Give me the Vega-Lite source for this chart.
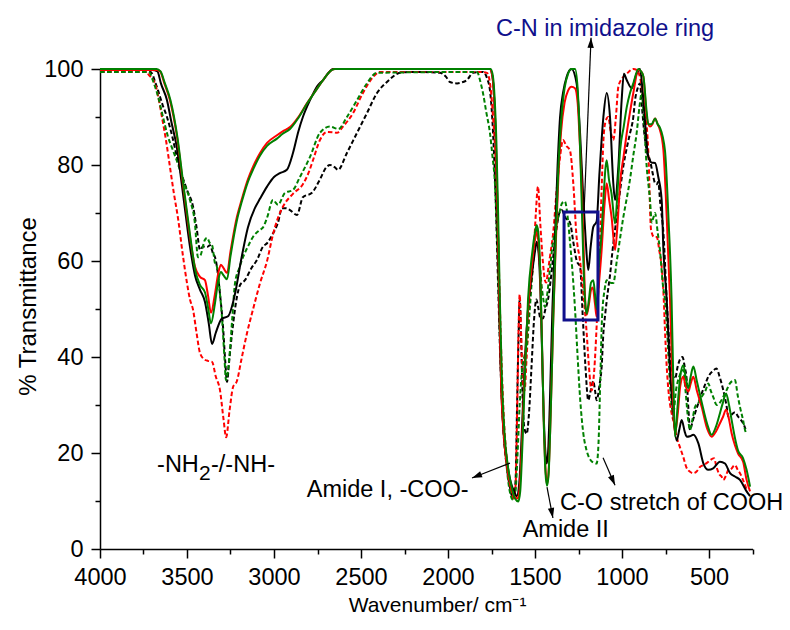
{
  "$schema": "https://vega.github.io/schema/vega-lite/v6.json",
  "width": 652.5,
  "height": 480,
  "autosize": {"type": "none"},
  "padding": {"left": 100, "top": 69, "right": 37.5, "bottom": 81},
  "config": {"view": {"stroke": null}, "font": "Liberation Sans"},
  "datasets": {
    "BS": [
      {"w":4000,"t":99.8},{"w":3700,"t":99.8},{"w":3670,"t":99.5},{"w":3650,"t":97},{"w":3615,"t":93.5},{"w":3590,"t":89},{"w":3560,"t":84},{"w":3523,"t":74},{"w":3483,"t":63},{"w":3454,"t":57},{"w":3425,"t":54},{"w":3397,"t":51.5},{"w":3375,"t":47},{"w":3356,"t":42.7},{"w":3335,"t":45},{"w":3300,"t":48},{"w":3264,"t":48.5},{"w":3225,"t":53},{"w":3190,"t":60},{"w":3150,"t":67},{"w":3110,"t":71},{"w":3080,"t":73},{"w":3040,"t":75.5},{"w":3000,"t":77.5},{"w":2966,"t":78.3},{"w":2926,"t":79},{"w":2891,"t":82.5},{"w":2860,"t":87},{"w":2834,"t":90},{"w":2793,"t":93.5},{"w":2750,"t":96.5},{"w":2718,"t":97.7},{"w":2680,"t":99.5},{"w":2661,"t":100},{"w":1760,"t":100},{"w":1745,"t":98.5},{"w":1735,"t":94},{"w":1725,"t":85},{"w":1715,"t":70},{"w":1705,"t":52},{"w":1695,"t":35},{"w":1680,"t":24},{"w":1660,"t":18},{"w":1640,"t":14},{"w":1620,"t":12},{"w":1605,"t":11},{"w":1590,"t":14},{"w":1575,"t":25},{"w":1560,"t":38},{"w":1540,"t":50},{"w":1515,"t":58},{"w":1500,"t":62},{"w":1490,"t":64},{"w":1480,"t":62},{"w":1470,"t":55},{"w":1460,"t":42},{"w":1450,"t":28},{"w":1440,"t":20},{"w":1433,"t":17.8},{"w":1425,"t":20},{"w":1415,"t":30},{"w":1400,"t":50},{"w":1385,"t":65},{"w":1370,"t":80},{"w":1356,"t":90},{"w":1339,"t":95},{"w":1318,"t":98.4},{"w":1290,"t":100},{"w":1261,"t":97},{"w":1241,"t":86.6},{"w":1222,"t":72.7},{"w":1208,"t":64},{"w":1194,"t":58.1},{"w":1180,"t":63},{"w":1165,"t":67.1},{"w":1146,"t":68.2},{"w":1130,"t":78},{"w":1107,"t":90},{"w":1088,"t":95},{"w":1069,"t":90},{"w":1050,"t":76.2},{"w":1040,"t":72.7},{"w":1021,"t":79.6},{"w":1002,"t":93.5},{"w":989,"t":99},{"w":973,"t":97.7},{"w":944,"t":96},{"w":916,"t":99},{"w":897,"t":100},{"w":877,"t":93.5},{"w":849,"t":81.7},{"w":830,"t":80.5},{"w":810,"t":80.4},{"w":792,"t":77.6},{"w":772,"t":72.7},{"w":762,"t":62.3},{"w":743,"t":51.9},{"w":725,"t":38},{"w":705,"t":28},{"w":686,"t":22.6},{"w":670,"t":25},{"w":657,"t":26.9},{"w":640,"t":24.5},{"w":628,"t":23.4},{"w":610,"t":23.5},{"w":590,"t":23.8},{"w":561,"t":22},{"w":532,"t":17.8},{"w":504,"t":16.5},{"w":476,"t":16.8},{"w":437,"t":18.2},{"w":408,"t":17.8},{"w":379,"t":15.8},{"w":351,"t":15.1},{"w":322,"t":14.4},{"w":284,"t":12},{"w":264,"t":11}
    ],
    "RS": [
      {"w":4000,"t":99.8},{"w":3680,"t":99.8},{"w":3655,"t":99.5},{"w":3630,"t":97},{"w":3598,"t":93.5},{"w":3558,"t":86},{"w":3523,"t":76},{"w":3483,"t":65},{"w":3454,"t":58.8},{"w":3425,"t":56.7},{"w":3397,"t":56},{"w":3380,"t":53},{"w":3362,"t":49.2},{"w":3340,"t":53},{"w":3320,"t":57.5},{"w":3305,"t":59.2},{"w":3290,"t":58.5},{"w":3270,"t":57.5},{"w":3250,"t":62},{"w":3213,"t":69.2},{"w":3184,"t":73},{"w":3150,"t":77},{"w":3121,"t":79.6},{"w":3080,"t":82.5},{"w":3040,"t":84.6},{"w":2983,"t":86.2},{"w":2950,"t":87},{"w":2908,"t":87.9},{"w":2860,"t":90},{"w":2810,"t":92.9},{"w":2760,"t":95.5},{"w":2718,"t":97.7},{"w":2667,"t":99.8},{"w":2650,"t":100},{"w":1760,"t":100},{"w":1745,"t":98.5},{"w":1735,"t":94},{"w":1725,"t":85},{"w":1715,"t":70},{"w":1705,"t":52},{"w":1695,"t":35},{"w":1680,"t":24},{"w":1660,"t":17},{"w":1640,"t":13},{"w":1620,"t":11},{"w":1600,"t":10.5},{"w":1590,"t":12},{"w":1575,"t":22},{"w":1560,"t":36},{"w":1540,"t":50},{"w":1515,"t":60},{"w":1500,"t":64.5},{"w":1490,"t":66},{"w":1480,"t":64},{"w":1470,"t":57},{"w":1460,"t":43},{"w":1450,"t":27},{"w":1440,"t":17},{"w":1431,"t":13.5},{"w":1422,"t":16},{"w":1410,"t":28},{"w":1395,"t":48},{"w":1380,"t":64},{"w":1365,"t":78},{"w":1350,"t":87},{"w":1330,"t":93},{"w":1310,"t":95.5},{"w":1290,"t":96.3},{"w":1270,"t":96},{"w":1255,"t":93},{"w":1243,"t":85},{"w":1232,"t":76.2},{"w":1222,"t":65},{"w":1213,"t":53},{"w":1203,"t":48.8},{"w":1190,"t":51},{"w":1178,"t":54},{"w":1168,"t":54.5},{"w":1155,"t":51},{"w":1146,"t":48.4},{"w":1135,"t":54},{"w":1117,"t":62.3},{"w":1100,"t":72},{"w":1088,"t":76.2},{"w":1075,"t":73},{"w":1060,"t":69.2},{"w":1040,"t":62.3},{"w":1025,"t":68},{"w":1011,"t":76.2},{"w":990,"t":82},{"w":973,"t":86.6},{"w":954,"t":91},{"w":935,"t":95},{"w":906,"t":99.8},{"w":890,"t":99.5},{"w":877,"t":98.4},{"w":858,"t":90},{"w":839,"t":88},{"w":825,"t":88.5},{"w":810,"t":89.7},{"w":795,"t":88.5},{"w":782,"t":87.3},{"w":762,"t":83.1},{"w":743,"t":69.2},{"w":724,"t":51.9},{"w":710,"t":35},{"w":695,"t":24.1},{"w":680,"t":28},{"w":665,"t":34},{"w":648,"t":35.9},{"w":635,"t":34},{"w":619,"t":32.8},{"w":605,"t":34.5},{"w":590,"t":35.9},{"w":570,"t":33},{"w":542,"t":29.6},{"w":510,"t":25},{"w":485,"t":23.4},{"w":460,"t":24.5},{"w":437,"t":26.2},{"w":420,"t":27.5},{"w":402,"t":29},{"w":385,"t":27},{"w":370,"t":24.1},{"w":350,"t":21.5},{"w":333,"t":19.9},{"w":304,"t":18.2},{"w":284,"t":14.4},{"w":264,"t":12}
    ],
    "GS": [
      {"w":4000,"t":100},{"w":3675,"t":100},{"w":3652,"t":99.5},{"w":3627,"t":97},{"w":3595,"t":93.5},{"w":3556,"t":86},{"w":3521,"t":76},{"w":3481,"t":65},{"w":3452,"t":58},{"w":3425,"t":55},{"w":3397,"t":53.5},{"w":3380,"t":50.5},{"w":3362,"t":47},{"w":3340,"t":51},{"w":3320,"t":56},{"w":3305,"t":57.7},{"w":3290,"t":57},{"w":3270,"t":56.2},{"w":3250,"t":61},{"w":3213,"t":68.5},{"w":3184,"t":72.5},{"w":3150,"t":76.5},{"w":3121,"t":79},{"w":3080,"t":82},{"w":3040,"t":84},{"w":2983,"t":85.5},{"w":2950,"t":86.5},{"w":2908,"t":87.5},{"w":2860,"t":89.8},{"w":2810,"t":92.8},{"w":2760,"t":95.5},{"w":2718,"t":97.7},{"w":2667,"t":99.8},{"w":2650,"t":100},{"w":1755,"t":100},{"w":1742,"t":98.5},{"w":1732,"t":94},{"w":1722,"t":85},{"w":1712,"t":70},{"w":1702,"t":52},{"w":1690,"t":35},{"w":1675,"t":24},{"w":1655,"t":17},{"w":1635,"t":13},{"w":1615,"t":10.5},{"w":1596,"t":9.9},{"w":1585,"t":12},{"w":1572,"t":22},{"w":1558,"t":36},{"w":1540,"t":52},{"w":1515,"t":62},{"w":1500,"t":66},{"w":1490,"t":67.5},{"w":1480,"t":65.5},{"w":1470,"t":58},{"w":1460,"t":43},{"w":1450,"t":27},{"w":1440,"t":16},{"w":1431,"t":13.2},{"w":1422,"t":15.5},{"w":1410,"t":28},{"w":1395,"t":48},{"w":1380,"t":66},{"w":1365,"t":80},{"w":1350,"t":89},{"w":1330,"t":96},{"w":1310,"t":99},{"w":1290,"t":100},{"w":1270,"t":100},{"w":1255,"t":96},{"w":1243,"t":86},{"w":1232,"t":72.7},{"w":1222,"t":60},{"w":1213,"t":52},{"w":1203,"t":49},{"w":1190,"t":52},{"w":1178,"t":55.5},{"w":1165,"t":56},{"w":1155,"t":53},{"w":1146,"t":50},{"w":1135,"t":58},{"w":1117,"t":66},{"w":1107,"t":72.7},{"w":1088,"t":81},{"w":1075,"t":77},{"w":1060,"t":74},{"w":1040,"t":67.8},{"w":1025,"t":75},{"w":1011,"t":83},{"w":990,"t":88},{"w":973,"t":92},{"w":954,"t":95},{"w":935,"t":97},{"w":906,"t":100},{"w":890,"t":99.5},{"w":877,"t":98.4},{"w":858,"t":91},{"w":849,"t":88.5},{"w":830,"t":88.5},{"w":810,"t":89.7},{"w":795,"t":88.5},{"w":782,"t":87.8},{"w":753,"t":83},{"w":733,"t":69},{"w":715,"t":51.9},{"w":705,"t":35},{"w":695,"t":23.4},{"w":680,"t":30},{"w":665,"t":36},{"w":648,"t":38.3},{"w":635,"t":36},{"w":619,"t":33.5},{"w":605,"t":36},{"w":590,"t":38},{"w":570,"t":35},{"w":542,"t":30.6},{"w":510,"t":26},{"w":485,"t":23.8},{"w":460,"t":25.5},{"w":437,"t":28.3},{"w":420,"t":30.5},{"w":402,"t":32.4},{"w":385,"t":30},{"w":370,"t":26.9},{"w":350,"t":23},{"w":333,"t":20.5},{"w":304,"t":18.9},{"w":284,"t":16.5},{"w":264,"t":13}
    ],
    "RD": [
      {"w":4000,"t":99.4},{"w":3730,"t":99.4},{"w":3724,"t":99},{"w":3700,"t":98},{"w":3684,"t":97},{"w":3664,"t":94},{"w":3644,"t":90},{"w":3620,"t":85},{"w":3598,"t":79.6},{"w":3575,"t":74},{"w":3552,"t":69},{"w":3523,"t":61},{"w":3500,"t":55.4},{"w":3483,"t":52},{"w":3465,"t":49.8},{"w":3445,"t":45},{"w":3425,"t":40.8},{"w":3400,"t":39.5},{"w":3380,"t":39.2},{"w":3356,"t":39},{"w":3335,"t":36},{"w":3310,"t":33},{"w":3290,"t":27},{"w":3275,"t":23.3},{"w":3255,"t":29},{"w":3235,"t":33.8},{"w":3213,"t":35},{"w":3190,"t":39},{"w":3155,"t":45},{"w":3120,"t":50},{"w":3080,"t":55.4},{"w":3040,"t":60},{"w":3006,"t":65.5},{"w":2977,"t":69},{"w":2949,"t":71.3},{"w":2891,"t":74},{"w":2834,"t":76},{"w":2800,"t":78.5},{"w":2776,"t":81},{"w":2736,"t":85.2},{"w":2696,"t":86.9},{"w":2660,"t":86.8},{"w":2638,"t":86.7},{"w":2604,"t":88},{"w":2546,"t":90.8},{"w":2489,"t":95},{"w":2431,"t":98.3},{"w":2391,"t":99.4},{"w":1816,"t":99.4},{"w":1776,"t":99.2},{"w":1755,"t":96},{"w":1741,"t":90},{"w":1725,"t":80},{"w":1710,"t":62},{"w":1695,"t":42},{"w":1680,"t":28},{"w":1660,"t":18},{"w":1640,"t":12.5},{"w":1625,"t":10.5},{"w":1612,"t":13},{"w":1602,"t":30},{"w":1595,"t":45},{"w":1588,"t":53},{"w":1580,"t":45},{"w":1570,"t":35},{"w":1560,"t":33},{"w":1548,"t":40},{"w":1530,"t":52},{"w":1510,"t":60},{"w":1495,"t":70},{"w":1483,"t":75.5},{"w":1470,"t":68},{"w":1455,"t":60},{"w":1443,"t":56},{"w":1436,"t":55.5},{"w":1425,"t":58},{"w":1414,"t":60.9},{"w":1395,"t":66},{"w":1375,"t":75},{"w":1355,"t":82},{"w":1339,"t":85.2},{"w":1320,"t":84},{"w":1299,"t":83},{"w":1280,"t":76.2},{"w":1261,"t":65},{"w":1241,"t":60},{"w":1222,"t":53.3},{"w":1203,"t":45},{"w":1190,"t":38},{"w":1175,"t":33},{"w":1160,"t":37},{"w":1145,"t":47},{"w":1130,"t":60},{"w":1117,"t":75},{"w":1107,"t":85},{"w":1095,"t":89},{"w":1079,"t":90},{"w":1065,"t":87},{"w":1050,"t":85.2},{"w":1035,"t":90},{"w":1021,"t":96.3},{"w":1000,"t":98},{"w":973,"t":99},{"w":935,"t":100},{"w":916,"t":99.8},{"w":895,"t":98},{"w":877,"t":93.5},{"w":849,"t":83},{"w":833,"t":66.5},{"w":815,"t":65},{"w":800,"t":65},{"w":785,"t":62},{"w":772,"t":58.8},{"w":760,"t":52},{"w":753,"t":45.6},{"w":743,"t":38},{"w":733,"t":33},{"w":715,"t":28.3},{"w":700,"t":26},{"w":686,"t":23.4},{"w":665,"t":21},{"w":648,"t":19.2},{"w":630,"t":17},{"w":609,"t":16.1},{"w":590,"t":15.8},{"w":570,"t":16.2},{"w":552,"t":17.1},{"w":532,"t":17.5},{"w":510,"t":18},{"w":494,"t":18.5},{"w":471,"t":18.9},{"w":457,"t":17.1},{"w":440,"t":15.5},{"w":428,"t":15.1},{"w":418,"t":14.4},{"w":400,"t":15.5},{"w":389,"t":16.5},{"w":379,"t":16.5},{"w":351,"t":17.5},{"w":335,"t":16.5},{"w":322,"t":15.8},{"w":300,"t":14},{"w":280,"t":12}
    ],
    "GD": [
      {"w":4000,"t":99.4},{"w":3720,"t":99.4},{"w":3713,"t":99.2},{"w":3695,"t":97.5},{"w":3672,"t":95},{"w":3638,"t":90},{"w":3610,"t":86},{"w":3580,"t":83},{"w":3550,"t":80},{"w":3523,"t":76.9},{"w":3483,"t":72.7},{"w":3455,"t":68},{"w":3437,"t":60.8},{"w":3425,"t":61},{"w":3397,"t":64.4},{"w":3385,"t":64.8},{"w":3368,"t":63.7},{"w":3356,"t":63.3},{"w":3339,"t":59.5},{"w":3328,"t":58.8},{"w":3310,"t":53},{"w":3299,"t":48.3},{"w":3285,"t":40},{"w":3276,"t":35.2},{"w":3265,"t":37},{"w":3253,"t":41.5},{"w":3240,"t":48},{"w":3224,"t":55.4},{"w":3200,"t":58.5},{"w":3178,"t":60.8},{"w":3150,"t":63},{"w":3121,"t":65},{"w":3080,"t":66.5},{"w":3063,"t":67},{"w":3040,"t":69},{"w":3006,"t":72.7},{"w":2977,"t":71.7},{"w":2937,"t":74.2},{"w":2891,"t":74.8},{"w":2851,"t":77.5},{"w":2793,"t":81.7},{"w":2736,"t":86.7},{"w":2678,"t":88},{"w":2630,"t":87.5},{"w":2581,"t":90},{"w":2523,"t":93.5},{"w":2466,"t":97},{"w":2408,"t":99.2},{"w":1833,"t":99.4},{"w":1815,"t":97.5},{"w":1799,"t":95},{"w":1780,"t":91},{"w":1759,"t":86.7},{"w":1745,"t":82},{"w":1730,"t":76},{"w":1715,"t":62},{"w":1700,"t":42},{"w":1685,"t":28},{"w":1665,"t":18},{"w":1645,"t":12},{"w":1626,"t":10.2},{"w":1612,"t":12},{"w":1600,"t":20},{"w":1588,"t":30},{"w":1575,"t":37},{"w":1562,"t":40},{"w":1548,"t":42},{"w":1530,"t":50},{"w":1510,"t":60},{"w":1495,"t":66},{"w":1488,"t":67},{"w":1478,"t":62},{"w":1465,"t":56},{"w":1452,"t":52},{"w":1443,"t":50.4},{"w":1430,"t":53},{"w":1415,"t":58},{"w":1400,"t":63},{"w":1380,"t":67},{"w":1360,"t":70},{"w":1345,"t":72},{"w":1328,"t":72.4},{"w":1315,"t":70},{"w":1299,"t":64},{"w":1285,"t":58},{"w":1270,"t":50},{"w":1255,"t":40},{"w":1240,"t":31},{"w":1222,"t":24},{"w":1204,"t":20.6},{"w":1180,"t":18.5},{"w":1165,"t":18},{"w":1146,"t":17.8},{"w":1135,"t":22},{"w":1125,"t":35},{"w":1115,"t":48},{"w":1100,"t":54},{"w":1088,"t":56},{"w":1070,"t":55.5},{"w":1050,"t":55.4},{"w":1030,"t":60},{"w":1010,"t":65},{"w":993,"t":69},{"w":973,"t":73},{"w":954,"t":77},{"w":935,"t":82},{"w":916,"t":86.6},{"w":900,"t":92},{"w":887,"t":95},{"w":875,"t":90},{"w":858,"t":79.6},{"w":839,"t":72.7},{"w":829,"t":68},{"w":820,"t":69},{"w":810,"t":70},{"w":795,"t":66},{"w":782,"t":62.3},{"w":765,"t":55},{"w":753,"t":51.9},{"w":740,"t":45},{"w":725,"t":35},{"w":715,"t":30},{"w":705,"t":28.3},{"w":690,"t":33},{"w":670,"t":36},{"w":648,"t":37.3},{"w":635,"t":33},{"w":620,"t":27},{"w":609,"t":24.8},{"w":595,"t":27},{"w":580,"t":29.6},{"w":560,"t":30.5},{"w":542,"t":31.7},{"w":520,"t":33},{"w":504,"t":34.5},{"w":490,"t":33},{"w":476,"t":31.7},{"w":455,"t":30},{"w":437,"t":30.5},{"w":418,"t":31.7},{"w":400,"t":33},{"w":380,"t":34.5},{"w":351,"t":35.2},{"w":335,"t":32},{"w":322,"t":29.6},{"w":305,"t":27},{"w":293,"t":24.8},{"w":285,"t":24}
    ],
    "BD": [
      {"w":4000,"t":99.4},{"w":3710,"t":99.4},{"w":3700,"t":99},{"w":3685,"t":97.5},{"w":3667,"t":95.6},{"w":3640,"t":92.5},{"w":3615,"t":90},{"w":3585,"t":86},{"w":3558,"t":81.7},{"w":3530,"t":78},{"w":3500,"t":74.8},{"w":3465,"t":71.3},{"w":3445,"t":67},{"w":3425,"t":62.3},{"w":3408,"t":63},{"w":3385,"t":62.9},{"w":3368,"t":63.3},{"w":3350,"t":61.5},{"w":3339,"t":60.8},{"w":3328,"t":58.8},{"w":3310,"t":53},{"w":3293,"t":46.3},{"w":3280,"t":39},{"w":3270,"t":34.8},{"w":3258,"t":39},{"w":3241,"t":45},{"w":3213,"t":52.5},{"w":3195,"t":55},{"w":3167,"t":56},{"w":3130,"t":58.5},{"w":3098,"t":60.2},{"w":3063,"t":63},{"w":3040,"t":63.7},{"w":3011,"t":65.4},{"w":2977,"t":68},{"w":2954,"t":71},{"w":2930,"t":71},{"w":2908,"t":70.6},{"w":2868,"t":69.6},{"w":2834,"t":73.3},{"w":2782,"t":74.2},{"w":2736,"t":77},{"w":2700,"t":79.5},{"w":2678,"t":80},{"w":2650,"t":79.5},{"w":2632,"t":79},{"w":2581,"t":82.5},{"w":2523,"t":86.7},{"w":2466,"t":90.8},{"w":2408,"t":95},{"w":2351,"t":97.3},{"w":2276,"t":99.2},{"w":2218,"t":99.4},{"w":2046,"t":99.2},{"w":2010,"t":98.3},{"w":1989,"t":97.3},{"w":1948,"t":97},{"w":1920,"t":97.2},{"w":1891,"t":97.7},{"w":1856,"t":99.2},{"w":1799,"t":99.4},{"w":1775,"t":98},{"w":1759,"t":95.6},{"w":1741,"t":86.7},{"w":1728,"t":75},{"w":1712,"t":55},{"w":1698,"t":38},{"w":1682,"t":25},{"w":1662,"t":17},{"w":1645,"t":13},{"w":1625,"t":10.5},{"w":1612,"t":14},{"w":1603,"t":30},{"w":1594,"t":45},{"w":1588,"t":52},{"w":1580,"t":44},{"w":1570,"t":30},{"w":1560,"t":25},{"w":1548,"t":24},{"w":1535,"t":28},{"w":1520,"t":38},{"w":1505,"t":48},{"w":1492,"t":52},{"w":1480,"t":50},{"w":1468,"t":48},{"w":1455,"t":48},{"w":1440,"t":50},{"w":1425,"t":52},{"w":1410,"t":56},{"w":1395,"t":61},{"w":1375,"t":67},{"w":1360,"t":70},{"w":1347,"t":70.6},{"w":1325,"t":69},{"w":1299,"t":68},{"w":1280,"t":64},{"w":1260,"t":60},{"w":1241,"t":58.8},{"w":1225,"t":48},{"w":1210,"t":38},{"w":1194,"t":31},{"w":1180,"t":33},{"w":1165,"t":35},{"w":1155,"t":33},{"w":1146,"t":31},{"w":1130,"t":34},{"w":1117,"t":38},{"w":1107,"t":45},{"w":1098,"t":48.4},{"w":1080,"t":54},{"w":1069,"t":57},{"w":1055,"t":62},{"w":1040,"t":66.5},{"w":1020,"t":72},{"w":993,"t":79.6},{"w":970,"t":84},{"w":954,"t":86.6},{"w":935,"t":90},{"w":925,"t":93.5},{"w":910,"t":96},{"w":897,"t":97},{"w":885,"t":92},{"w":870,"t":86},{"w":858,"t":83},{"w":839,"t":81},{"w":825,"t":78.5},{"w":810,"t":76.2},{"w":800,"t":76},{"w":792,"t":76.5},{"w":780,"t":72},{"w":762,"t":65.8},{"w":743,"t":51.9},{"w":733,"t":45.6},{"w":720,"t":39},{"w":705,"t":35.9},{"w":695,"t":35.5},{"w":680,"t":38},{"w":667,"t":39.5},{"w":652,"t":40},{"w":640,"t":38},{"w":628,"t":35.2},{"w":618,"t":29},{"w":609,"t":24.8},{"w":595,"t":26.5},{"w":580,"t":28.3},{"w":560,"t":30.5},{"w":542,"t":32.4},{"w":520,"t":34.5},{"w":504,"t":35.9},{"w":480,"t":37},{"w":457,"t":37.6},{"w":440,"t":36},{"w":418,"t":33.1},{"w":400,"t":30},{"w":389,"t":27.6},{"w":370,"t":28},{"w":351,"t":28.5},{"w":333,"t":27.6},{"w":304,"t":26.2},{"w":290,"t":25}
    ],
    "labels": [
      {"label":"Amide I, -COO-","w":2812,"t":10.9},
      {"label":"Amide II","w":1571,"t":2.56},
      {"label":"C-O stretch of COOH","w":1356,"t":8.1},
      {"label":"-NH","w":3672,"t":16.0},
      {"label":"-/-NH-","w":3362,"t":16.0}
    ],
    "sub": [{"label":"2","w":3431,"t":14.4}],
    "blue": [{"label":"C-N in imidazole ring","w":471,"t":106.9}],
    "box": [{"w":1333,"w2":1138,"t":70.2,"t2":47.7}],
    "arrows": [
      {"w":1644,"t":17.9,"w2":1862,"t2":14.8,"angle":248.5},
      {"w":1431,"t":12.9,"w2":1397,"t2":6.46,"angle":169},
      {"w":1109,"t":19.0,"w2":1040,"t2":13.3,"angle":156},
      {"w":1218,"t":70.2,"w2":1178,"t2":106.5,"angle":2.3}
    ]
  },
  "encoding": {
    "x": {
      "field": "w", "type": "quantitative",
      "scale": {"domain": [250, 4000], "reverse": true, "nice": false, "zero": false},
      "axis": {
        "values": [250,500,750,1000,1250,1500,1750,2000,2250,2500,2750,3000,3250,3500,3750,4000],
        "format": "d",
        "labelExpr": "datum.value % 500 === 0 ? datum.label : ''",
        "tickSize": {"condition": {"test": "datum.value % 500 === 0", "value": 9}, "value": 5},
        "labelFontSize": 23.5, "labelFont": "Liberation Sans", "labelColor": "black",
        "labelPadding": 7, "labelFlush": false, "labelOverlap": false,
        "domainColor": "black", "domainWidth": 1.5, "tickColor": "black", "tickWidth": 1.5,
        "grid": false,
        "title": "Wavenumber/ cm⁻¹", "titleFont": "Liberation Sans", "titleFontSize": 21,
        "titleFontWeight": "normal", "titleColor": "black",
        "titleX": 337, "titleY": 56, "titleBaseline": "middle", "titleAlign": "center"
      }
    },
    "y": {
      "field": "t", "type": "quantitative",
      "scale": {"domain": [0, 100], "nice": false, "zero": false},
      "axis": {
        "values": [0,10,20,30,40,50,60,70,80,90,100],
        "format": "d",
        "labelExpr": "datum.value % 20 === 0 ? datum.label : ''",
        "tickSize": {"condition": {"test": "datum.value % 20 === 0", "value": 9}, "value": 5},
        "labelFontSize": 23.5, "labelFont": "Liberation Sans", "labelColor": "black",
        "labelPadding": 8, "labelFlush": false, "labelOverlap": false,
        "domainColor": "black", "domainWidth": 1.5, "tickColor": "black", "tickWidth": 1.5,
        "grid": false,
        "title": "% Transmittance", "titleFont": "Liberation Sans", "titleFontSize": 24,
        "titleFontWeight": "normal", "titleColor": "black",
        "titleX": -72, "titleY": 237, "titleAngle": -90, "titleBaseline": "middle", "titleAlign": "center"
      }
    }
  },
  "layer": [
    {"data": {"name": "BD"}, "mark": {"type": "line", "color": "black", "strokeWidth": 2, "strokeDash": [4.5, 2.5], "interpolate": "monotone"}, "encoding": {"order": {"field": "w", "sort": "descending"}}},
    {"data": {"name": "RD"}, "mark": {"type": "line", "color": "#ff0000", "strokeWidth": 2, "strokeDash": [4.5, 2.5], "interpolate": "monotone"}, "encoding": {"order": {"field": "w", "sort": "descending"}}},
    {"data": {"name": "GD"}, "mark": {"type": "line", "color": "#008000", "strokeWidth": 2, "strokeDash": [4.5, 2.5], "interpolate": "monotone"}, "encoding": {"order": {"field": "w", "sort": "descending"}}},
    {"data": {"name": "BS"}, "mark": {"type": "line", "color": "black", "strokeWidth": 2, "interpolate": "monotone"}, "encoding": {"order": {"field": "w", "sort": "descending"}}},
    {"data": {"name": "RS"}, "mark": {"type": "line", "color": "#ff0000", "strokeWidth": 2, "interpolate": "monotone"}, "encoding": {"order": {"field": "w", "sort": "descending"}}},
    {"data": {"name": "GS"}, "mark": {"type": "line", "color": "#008000", "strokeWidth": 2, "interpolate": "monotone"}, "encoding": {"order": {"field": "w", "sort": "descending"}}},
    {"data": {"name": "box"}, "mark": {"type": "rect", "fill": null, "stroke": "#10108c", "strokeWidth": 3}, "encoding": {"x2": {"field": "w2"}, "y2": {"field": "t2"}}},
    {"data": {"name": "arrows"}, "mark": {"type": "rule", "color": "black", "strokeWidth": 1.2}, "encoding": {"x2": {"field": "w2"}, "y2": {"field": "t2"}}},
    {"data": {"name": "arrows"}, "mark": {"type": "point", "shape": "M0,0L-0.32,1L0.32,1Z", "filled": true, "color": "black", "opacity": 1, "size": 400}, "encoding": {"x": {"field": "w2", "type": "quantitative"}, "y": {"field": "t2", "type": "quantitative"}, "angle": {"field": "angle", "type": "quantitative", "scale": null}}},
    {"data": {"name": "labels"}, "mark": {"type": "text", "align": "left", "baseline": "alphabetic", "fontSize": 23.5, "font": "Liberation Sans", "color": "black"}, "encoding": {"text": {"field": "label"}}},
    {"data": {"name": "sub"}, "mark": {"type": "text", "align": "left", "baseline": "alphabetic", "fontSize": 21, "font": "Liberation Sans", "color": "black"}, "encoding": {"text": {"field": "label"}}},
    {"data": {"name": "blue"}, "mark": {"type": "text", "align": "right", "baseline": "alphabetic", "fontSize": 23.5, "font": "Liberation Sans", "color": "#10108c"}, "encoding": {"text": {"field": "label"}}}
  ]
}
